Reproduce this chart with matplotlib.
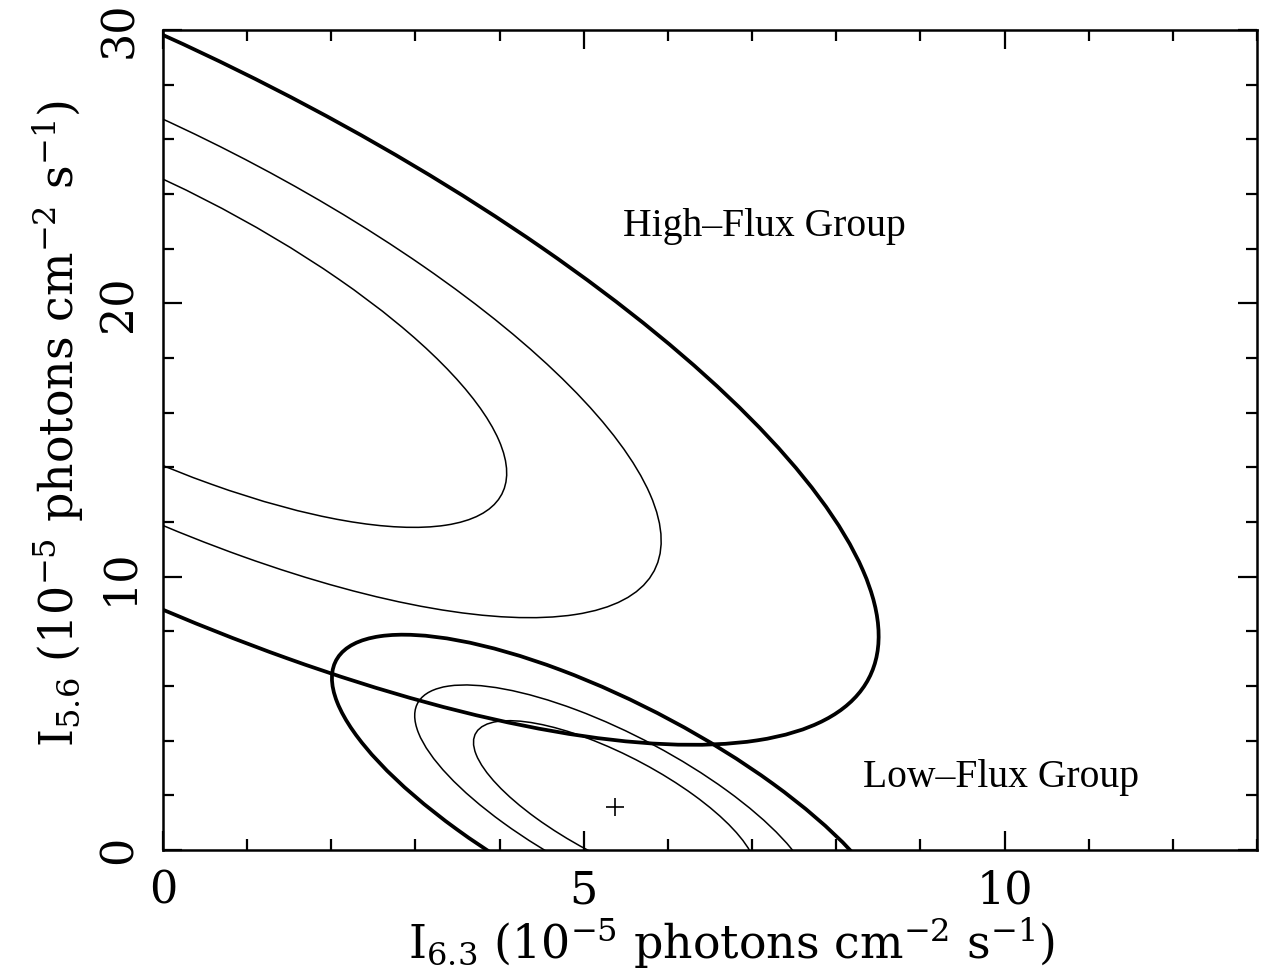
import numpy as np
import matplotlib
matplotlib.use("Agg")
import matplotlib.pyplot as plt
from matplotlib.patches import Ellipse
from matplotlib.ticker import MultipleLocator

plt.rcParams["font.family"] = "DejaVu Serif"
plt.rcParams["mathtext.fontset"] = "dejavuserif"

# delta chi^2 for two parameters: 68%, 90%, 99% confidence
levels = [2.30, 4.61, 9.21]
level_lw = [1.1, 1.1, 2.7]

# best-fit (I6.3, I5.6) for each group, in 1e-5 photons cm^-2 s^-1
high_center = [-0.33, 19.75]
low_center = [5.37, 1.59]

# curvature of delta chi^2 about the best fit: [[a, b], [b, c]]
high_curv = [[0.2696, 0.1123], [0.1123, 0.0832]]
low_curv = [[1.85, 0.74], [0.74, 0.529]]

group_names = ["High\u2013Flux Group", "Low\u2013Flux Group"]
group_label_pos = [[5.47, 22.8], [8.32, 2.64]]


def confidence_ellipses(ax, center, curv):
    vals, vecs = np.linalg.eigh(np.array(curv))
    angle = np.degrees(np.arctan2(vecs[1, 0], vecs[0, 0]))
    for lev, lw in zip(levels, level_lw):
        w = 2 * np.sqrt(lev / vals[0])
        h = 2 * np.sqrt(lev / vals[1])
        ax.add_patch(Ellipse(center, w, h, angle=angle, fill=False,
                             edgecolor="black", linewidth=lw))


fig = plt.figure(figsize=(12.63, 9.73), dpi=100)
ax = fig.add_axes([0.129, 0.1264, 0.8663, 0.8428])

confidence_ellipses(ax, high_center, high_curv)
confidence_ellipses(ax, low_center, low_curv)
ax.plot(low_center[0], low_center[1], marker="+", color="black",
        markersize=13, markeredgewidth=1.2)

for name, pos in zip(group_names, group_label_pos):
    ax.text(pos[0], pos[1], name, family="Liberation Serif", fontsize=28.5,
            va="center", ha="left")

ax.set_xlim(0, 13)
ax.set_ylim(0, 30)
ax.xaxis.set_major_locator(MultipleLocator(5))
ax.xaxis.set_minor_locator(MultipleLocator(1))
ax.yaxis.set_major_locator(MultipleLocator(10))
ax.yaxis.set_minor_locator(MultipleLocator(2))
ax.tick_params(which="both", direction="in", top=True, right=True,
               width=1.6, labelsize=32)
ax.tick_params(which="major", length=14)
ax.tick_params(which="minor", length=8)
ax.tick_params(axis="x", pad=14)
ax.tick_params(axis="y", pad=16)
for lab in ax.get_yticklabels():
    lab.set_rotation(90)
    lab.set_va("center")
for sp in ax.spines.values():
    sp.set_linewidth(1.8)

ax.set_xlabel(r"I$_{6.3}$ (10$^{-5}$ photons cm$^{-2}$ s$^{-1}$)",
              fontsize=33, labelpad=2, x=0.52)
ax.set_ylabel(r"I$_{5.6}$ (10$^{-5}$ photons cm$^{-2}$ s$^{-1}$)",
              fontsize=33, labelpad=8, y=0.52)

fig.savefig("out.png", dpi=100)
